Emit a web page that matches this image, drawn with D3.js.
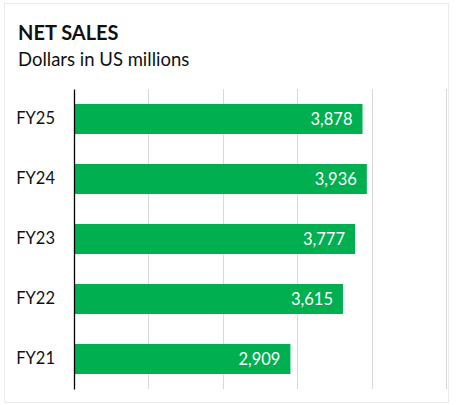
<!DOCTYPE html>
<html><head><meta charset="utf-8">
<script src="https://cdn.jsdelivr.net/npm/d3@7"></script>
<style>
html,body{margin:0;padding:0;background:#fff;}
svg{display:block;font-family:Lato,"Open Sans",sans-serif;}
</style></head>
<body>
<script>
const categories = ["FY25","FY24","FY23","FY22","FY21"];
const values = [3878, 3936, 3777, 3615, 2909];
const tickValues = [1000, 2000, 3000, 4000, 5000];
const title = "NET SALES";
const subtitle = "Dollars in US millions";

const W = 457, H = 405;
const svg = d3.select("body").append("svg").attr("width", W).attr("height", H);

// outer frame
svg.append("rect").attr("x",4.5).attr("y",3.5).attr("width",444).attr("height",399)
  .attr("fill","none").attr("stroke","#ebebeb").attr("stroke-width",1);

const x = d3.scaleLinear().domain([0,5000]).range([74,446]);
const y = d3.scaleBand().domain(categories).range([89,389]).paddingInner(0.5).paddingOuter(0.25);

// gridlines
svg.append("g").selectAll("line").data(tickValues).join("line")
  .attr("x1",d=>Math.round(x(d))+0.5).attr("x2",d=>Math.round(x(d))+0.5)
  .attr("y1",89).attr("y2",389)
  .attr("stroke","#d9d9d9").attr("stroke-width",1);

// bars
svg.append("g").selectAll("rect").data(values).join("rect")
  .attr("x",x(0)).attr("y",(d,i)=>y(categories[i]))
  .attr("width",d=>x(d)-x(0)).attr("height",y.bandwidth())
  .attr("fill","#00b050");

// value labels
svg.append("g").selectAll("text").data(values).join("text")
  .attr("x",d=>x(d)-10).attr("y",(d,i)=>y(categories[i])+y.bandwidth()/2)
  .attr("dy","0.36em").attr("text-anchor","end")
  .attr("fill","#fff").attr("font-size",16.5)
  .text(d=>d3.format(",")(d));

// y axis
const yAxis = d3.axisLeft(y).tickSize(0).tickPadding(19);
const ga = svg.append("g").attr("transform",`translate(${x(0)},0)`).call(yAxis);
ga.select(".domain").attr("stroke","#000").attr("stroke-width",1.3);
ga.selectAll("text").attr("font-size",16.5).attr("fill","#111").attr("font-family","Lato,'Open Sans',sans-serif");

// titles
svg.append("text").attr("x",18).attr("y",40).attr("font-weight","bold")
  .attr("font-size",20).attr("fill","#111").text(title);
svg.append("text").attr("x",18).attr("y",66)
  .attr("font-size",18.5).attr("fill","#111").text(subtitle);
</script>
</body></html>
